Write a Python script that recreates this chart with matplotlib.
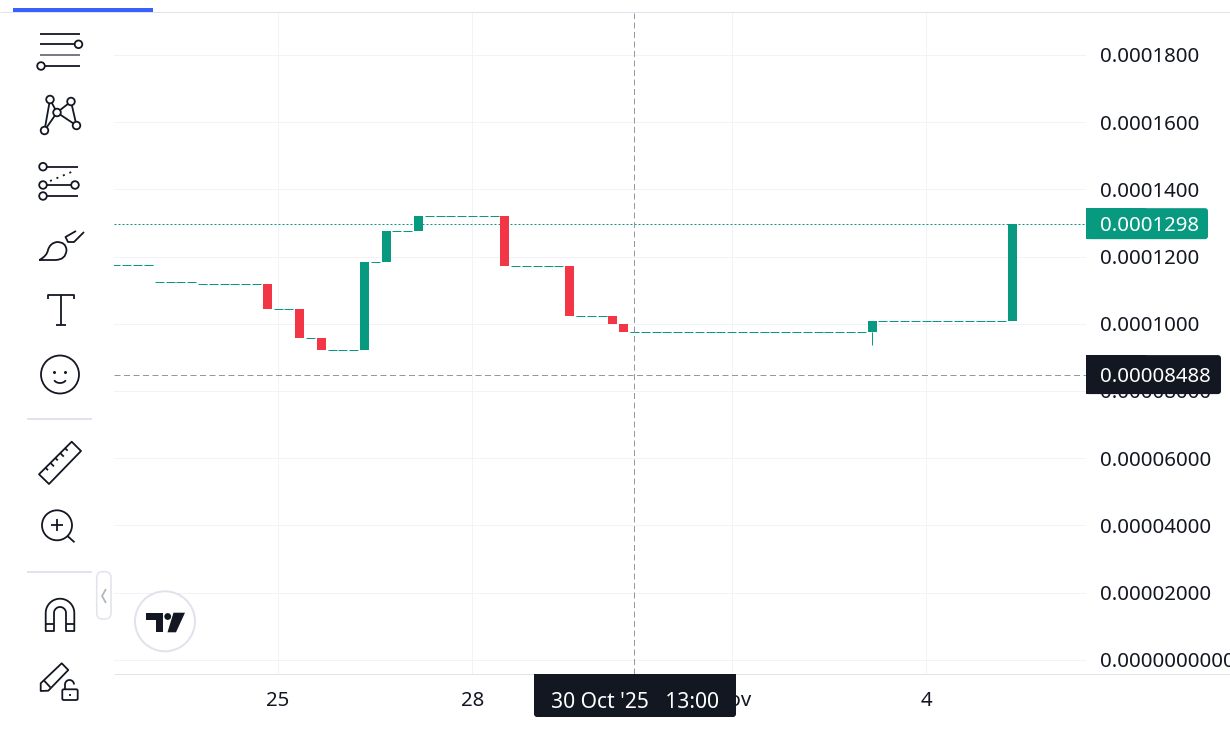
import numpy as np
import matplotlib as mpl
mpl.use('Agg')
import matplotlib.pyplot as plt
from matplotlib.patches import Circle, FancyBboxPatch, PathPatch, Polygon, Rectangle
from matplotlib.path import Path

plt.rcParams['font.family'] = ['Noto Sans', 'DejaVu Sans']
plt.rcParams['lines.scale_dashes'] = False

# 4 hour candles, index 0 is the first bar of 25 Oct
bar_index = list(range(-15, 69))
opens = [
    0.0001176, 0.0001176, 0.0001176, 0.0001176,
    0.0001125, 0.0001125, 0.0001125, 0.0001125,
    0.0001117, 0.0001117, 0.0001117, 0.0001117, 0.0001117, 0.0001117,
    0.0001117, 0.0001044, 0.0001044, 0.0001044, 0.0000958, 0.0000958,
    0.0000922, 0.0000922, 0.0000922, 0.0000922, 0.0001184, 0.0001184,
    0.0001276, 0.0001276, 0.0001276,
    0.0001321, 0.0001321, 0.0001321, 0.0001321, 0.0001321, 0.0001321, 0.0001321,
    0.0001321,
    0.0001172, 0.0001172, 0.0001172, 0.0001172, 0.0001172,
    0.0001172, 0.0001023, 0.0001023, 0.0001023, 0.0001023, 0.0000999,
    0.0000976, 0.0000976, 0.0000976, 0.0000976, 0.0000976, 0.0000976,
    0.0000976, 0.0000976, 0.0000976, 0.0000976, 0.0000976, 0.0000976,
    0.0000976, 0.0000976, 0.0000976, 0.0000976, 0.0000976, 0.0000976,
    0.0000976, 0.0000976, 0.0000976, 0.0000976,
    0.0000976,
    0.0001008, 0.0001008, 0.0001008, 0.0001008, 0.0001008, 0.0001008,
    0.0001008, 0.0001008, 0.0001008, 0.0001008, 0.0001008, 0.0001008,
    0.0001008,
]
closes = [
    0.0001176, 0.0001176, 0.0001176, 0.0001176,
    0.0001125, 0.0001125, 0.0001125, 0.0001125,
    0.0001117, 0.0001117, 0.0001117, 0.0001117, 0.0001117, 0.0001117,
    0.0001044, 0.0001044, 0.0001044, 0.0000958, 0.0000958, 0.0000922,
    0.0000922, 0.0000922, 0.0000922, 0.0001184, 0.0001184, 0.0001276,
    0.0001276, 0.0001276, 0.0001321,
    0.0001321, 0.0001321, 0.0001321, 0.0001321, 0.0001321, 0.0001321, 0.0001321,
    0.0001172,
    0.0001172, 0.0001172, 0.0001172, 0.0001172, 0.0001172,
    0.0001023, 0.0001023, 0.0001023, 0.0001023, 0.0000999, 0.0000976,
    0.0000976, 0.0000976, 0.0000976, 0.0000976, 0.0000976, 0.0000976,
    0.0000976, 0.0000976, 0.0000976, 0.0000976, 0.0000976, 0.0000976,
    0.0000976, 0.0000976, 0.0000976, 0.0000976, 0.0000976, 0.0000976,
    0.0000976, 0.0000976, 0.0000976, 0.0000976,
    0.0001008,
    0.0001008, 0.0001008, 0.0001008, 0.0001008, 0.0001008, 0.0001008,
    0.0001008, 0.0001008, 0.0001008, 0.0001008, 0.0001008, 0.0001008,
    0.0001298,
]
wick_bars = [55]
wick_lows = [0.0000938]

price_ticks = [0.0, 0.00002, 0.00004, 0.00006, 0.00008, 0.0001, 0.00012,
               0.00014, 0.00016, 0.00018]
price_labels = ['0.0000000000', '0.00002000', '0.00004000', '0.00006000',
                '0.00008000', '0.0001000', '0.0001200', '0.0001400',
                '0.0001600', '0.0001800']
date_ticks = [0, 18, 42, 60]
date_labels = ['25', '28', 'Nov', '4']

last_price = 0.0001298
last_label = '0.0001298'
cross_bar = 33
cross_price = 0.00008488
cross_price_label = '0.00008488'
cross_time_label = "30 Oct '25   13:00"

GREEN = '#089981'
RED = '#F23645'
INK = '#131722'
GRID = '#F2F3F6'
LINE = '#E0E3EB'
CROSS = '#9598A1'
W, H = 1230, 744
PT = 0.72  # one pixel in points at dpi 100

fig = plt.figure(figsize=(W / 100, H / 100), dpi=100, facecolor='white')

# main price pane, right hand side holds the price scale
ax = fig.add_axes([114 / W, 1 - 674 / H, (1086 - 114) / W, (674 - 13) / H])
ax.set_xlim(-15.185, 74.81)
ax.set_ylim(-4.23e-06, 1.925e-04)
for s in ax.spines.values():
    s.set_visible(False)
ax.yaxis.tick_right()
ax.set_yticks(price_ticks)
ax.set_yticklabels(price_labels)
ax.set_xticks(date_ticks)
ax.set_xticklabels(date_labels)
ax.tick_params(axis='y', length=0, pad=10, labelsize=14.7, labelcolor=INK)
ax.tick_params(axis='x', length=0, pad=12, labelsize=14.7, labelcolor=INK)
ax.grid(True, color=GRID, lw=1.0 * PT)
ax.set_axisbelow(True)

o = np.array(opens)
c = np.array(closes)
x = np.array(bar_index)
flat = o == c
colors = np.where(c >= o, GREEN, RED)
body_w = 9 / 10.8

ax.bar(x[~flat], (c - o)[~flat], bottom=o[~flat], width=body_w,
       color=colors[~flat], lw=0, zorder=3)
ax.hlines(o[flat], x[flat] - body_w / 2, x[flat] + body_w / 2,
          color=GREEN, lw=1.0 * PT, zorder=3, capstyle='butt')
for b, low in zip(wick_bars, wick_lows):
    ax.vlines(b, low, o[bar_index.index(b)], color=GREEN, lw=1.0 * PT, zorder=3,
              capstyle='butt')

ax.axhline(last_price, color=GREEN, lw=1.0 * PT, zorder=2,
           linestyle=(0, (2 * PT, 2 * PT)), dash_capstyle='butt')
ax.axhline(cross_price, color=CROSS, lw=1.0 * PT, zorder=4,
           linestyle=(0, (6 * PT, 3.5 * PT)))
ax.axvline(cross_bar, color=CROSS, lw=1.0 * PT, zorder=4,
           linestyle=(0, (6 * PT, 3.5 * PT)))

# overlay in pixel coordinates for the toolbar and the scale tags
ui = fig.add_axes([0, 0, 1, 1], zorder=5)
ui.set_xlim(0, W)
ui.set_ylim(H, 0)
ui.axis('off')


def line(xs, ys, color=INK, lw=1.8, **kw):
    ui.plot(xs, ys, color=color, lw=lw * PT, solid_capstyle='butt', **kw)


def ring(cx, cy, r, color=INK, lw=1.8, fill='white'):
    ui.add_patch(Circle((cx, cy), r, fc=fill, ec=color, lw=lw * PT, zorder=4))


def outline(points, closed=True):
    ui.add_patch(Polygon(points, closed=closed, fc='none', ec=INK, lw=1.8 * PT,
                         joinstyle='round'))


def price_y(v):
    return H - ax.transData.transform((0, v))[1]


def tag(x0, y0, x1, y1, color, square):
    # rounded box with one side squared off against the axis
    ui.add_patch(FancyBboxPatch((x0, y0), x1 - x0, y1 - y0, fc=color, lw=0,
                                boxstyle='round,pad=0,rounding_size=3', zorder=6))
    ui.add_patch(Rectangle(square[:2], square[2], square[3], fc=color, lw=0, zorder=6))


# top and bottom rules
line([0, W], [12, 12], color=LINE, lw=1)
line([114, W], [674, 674], color=LINE, lw=1)
ui.add_patch(Rectangle((13, 8), 140, 4, fc='#3861FB', lw=0))

# price tags
py = price_y(last_price)
tag(1086, py - 15.5, 1208, py + 15.5, GREEN, (1086, py - 15.5, 60, 31))
ui.text(1100, py, last_label, color='white', fontsize=14.7, va='center_baseline',
        ha='left', zorder=7)
py = price_y(cross_price)
tag(1086, py - 19.5, 1221, py + 19.5, INK, (1086, py - 19.5, 60, 39))
ui.text(1100, py, cross_price_label, color='white', fontsize=14.7,
        va='center_baseline', ha='left', zorder=7)
tag(534, 674, 736, 717, INK, (534, 674, 202, 20))
ui.text(635, 699.5, cross_time_label, color='white', fontsize=15.1,
        va='center_baseline', ha='center', zorder=7)

# settings lines
line([40, 80], [33.7, 33.7])
line([40, 75], [44.3, 44.3])
ring(78.5, 44.3, 3.8)
line([40, 80], [55.3, 55.3], color='#6A6D78')
line([45, 80], [66, 66])
ring(41, 66, 3.8)

# pattern tool
web = [(50, 99.5), (71, 101.5), (57, 112.5), (44.5, 130.5), (76.5, 125.5)]
for a, b in [(0, 2), (0, 3), (2, 3), (2, 1), (2, 4), (1, 4)]:
    line([web[a][0], web[b][0]], [web[a][1], web[b][1]])
for px, py in web:
    ring(px, py, 3.8)

# forecast lines
line([43, 78], [166.7, 166.7])
ring(43, 166.7, 3.8)
line([43, 75], [185, 185])
ring(43, 185, 3.8)
ring(75, 185, 3.8)
line([43, 78], [196, 196])
ring(43, 196, 3.8)
ui.plot([50, 75], [181, 170.5], color=INK, lw=1.8 * PT, linestyle=(0, (2 * PT, 5 * PT)))

# brush
brush = Path([(39.3, 260), (47, 256), (48, 250), (50, 243), (57, 242), (66, 242),
              (66.5, 250), (66, 260), (55, 260), (39.3, 260)],
             [Path.MOVETO] + [Path.CURVE3] * 8 + [Path.LINETO])
ui.add_patch(PathPatch(brush, fc='none', ec=INK, lw=1.8 * PT))
line([76, 65.5, 68, 74, 84], [231, 237, 242, 242, 232])

# text tool
line([48, 48, 74, 74], [299, 294.5, 294.5, 299])
line([61, 61], [294.5, 325])
line([56, 65.5], [325, 325])

# emoji
ring(60, 374.5, 19)
ui.add_patch(Circle((54.5, 372.5), 1.5, fc=INK, lw=0, zorder=5))
ui.add_patch(Circle((65.5, 372.5), 1.5, fc=INK, lw=0, zorder=5))
t = np.linspace(0.12 * np.pi, 0.88 * np.pi, 20)
line(60 + 6.2 * np.cos(t), 378.5 + 4.5 * np.sin(t), zorder=5)

# separators
line([27, 92], [419, 419], color=LINE, lw=2)
line([27, 92], [572, 572], color=LINE, lw=2)

# ruler
outline([(71.7, 441.7), (81, 451), (49, 484), (39, 474.3)])
for s, d in zip([0.2, 0.35, 0.5, 0.65, 0.8], [3.5, 5, 3.5, 5, 3.5]):
    ex = 39 + s * (71.7 - 39)
    ey = 474.3 + s * (441.7 - 474.3)
    line([ex, ex + d * 0.7], [ey, ey + d * 0.7])

# zoom
ring(57, 525.3, 15)
line([51, 63], [525.3, 525.3], zorder=5)
line([57, 57], [519.3, 531.3], zorder=5)
line([67.5, 74.5], [536, 542.3])

# magnet
t = np.linspace(np.pi, 2 * np.pi, 30)
outline(np.c_[np.r_[45.7, 60 + 14.3 * np.cos(t), 74.3, 66, 60 + 6 * np.cos(t)[::-1], 54],
              np.r_[631, 613 + 14.3 * np.sin(t), 631, 631, 613 + 6 * np.sin(t)[::-1], 631]])
line([45.7, 54], [624, 624])
line([66, 74.3], [624, 624])

# lock drawings
outline([(40.7, 683.3), (61.7, 663.3), (68.3, 670), (48.3, 690.7), (40.7, 691)])
line([44, 50.5], [680.5, 687.5])
ui.add_patch(FancyBboxPatch((62.3, 689.3), 15.4, 10.7, fc='white', ec=INK, lw=1.8 * PT,
                            boxstyle='round,pad=0,rounding_size=1.5'))
t = np.linspace(np.pi, 2 * np.pi, 20)
line(np.r_[65, 69.5 + 4.5 * np.cos(t)], np.r_[689, 684.5 + 4.5 * np.sin(t)])
line([70, 70], [693.5, 696])

# sidebar collapse handle
ui.add_patch(FancyBboxPatch((96.7, 571.7), 14.3, 47.3, fc='white', ec=LINE, lw=1.5 * PT,
                            boxstyle='round,pad=0,rounding_size=6'))
line([106, 102, 106], [589, 596, 603], color='#B2B5BE')

# logo badge
ring(165, 621.3, 30, color=LINE, lw=2)
ui.add_patch(Polygon([(146, 612.7), (163.3, 612.7), (163.3, 632.3), (155.5, 632.3),
                      (155.5, 619.5), (146, 619.5)], fc=INK, lw=0, zorder=5))
ui.add_patch(Circle((167.7, 616.5), 3.4, fc=INK, lw=0, zorder=5))
ui.add_patch(Polygon([(173.5, 612.7), (185, 612.7), (176, 632.3), (167.5, 632.3)],
                     fc=INK, lw=0, zorder=5))

fig.savefig('out.png', dpi=100)
